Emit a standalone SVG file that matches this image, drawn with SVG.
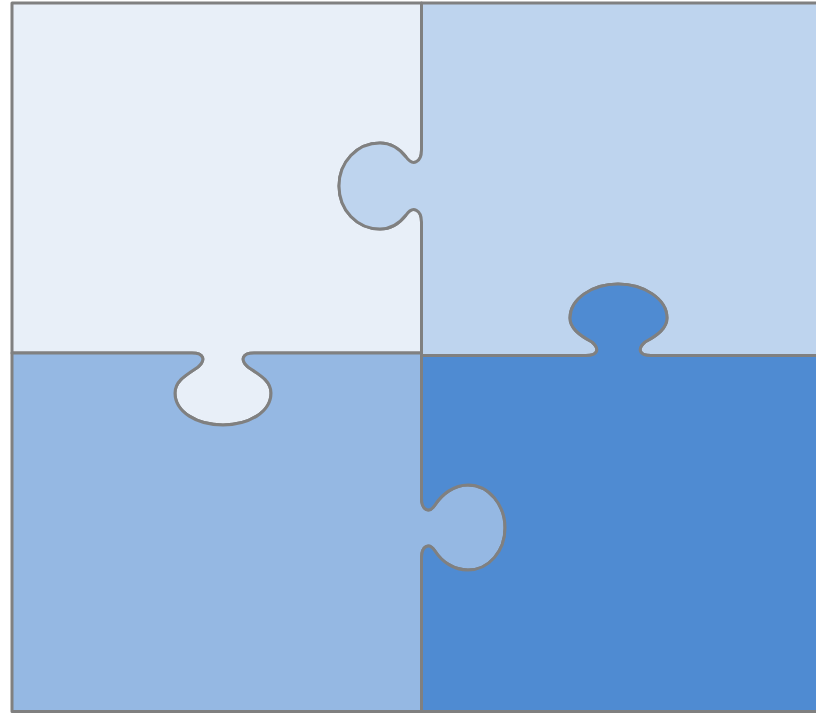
<svg xmlns="http://www.w3.org/2000/svg" width="816" height="713" viewBox="0 0 816 713">
  <style>
    .piece { stroke: #808080; stroke-width: 3; stroke-linejoin: round; }
    .tl { fill: #E8EFF8; }
    .tr { fill: #BED4EE; }
    .bl { fill: #95B8E3; }
    .br { fill: #4F8BD2; }
  </style>
  <rect x="0" y="0" width="816" height="713" fill="#FFFFFF"/>
  <g id="piece-top-left">
    <path class="piece tl" d="M12,3 L421.5,3 L421.5,150 C421.5,162 413,167 406,157 C399,148 390,143 380,143 C357,143 339,162 339,186 C339,210 357,229 380,229 C390,229 399,224 406,215 C413,205 421.5,210 421.5,222 L421.5,353 L254,353 C242,353 240,360 248,367 C260,375 271,381 271,393 C271,412 249,425 223,425 C197,425 175,412 175,393 C175,381 186,375 198,367 C206,360 204,353 192,353 L12,353 Z"/>
  </g>
  <g id="piece-top-right">
    <path class="piece tr" d="M421.5,3 L822,3 L822,355.5 L651,355.5 C639,355.5 637,349 645,342 C658,335 667,328 667,318 C667,299 644,284 618,284 C592,284 570,299 570,318 C570,328 579,335 592,342 C600,349 598,355.5 586,355.5 L421.5,355.5 L421.5,222 C421.5,210 413,205 406,215 C399,224 390,229 380,229 C357,229 339,210 339,186 C339,162 357,143 380,143 C390,143 399,148 406,157 C413,167 421.5,162 421.5,150 Z"/>
  </g>
  <g id="piece-bottom-left">
    <path class="piece bl" d="M12,353 L192,353 C204,353 206,360 198,367 C186,375 175,381 175,393 C175,412 197,425 223,425 C249,425 271,412 271,393 C271,381 260,375 248,367 C240,360 242,353 254,353 L421.5,353 L421.5,498 C421.5,510 429,514 435,505 C442,494 454,485 468,485 C489,485 505,505 505,528 C505,551 489,570 468,570 C454,570 442,562 435,551 C429,542 421.5,546 421.5,558 L421.5,711.5 L12,711.5 Z"/>
  </g>
  <g id="piece-bottom-right">
    <path class="piece br" d="M421.5,355.5 L586,355.5 C598,355.5 600,349 592,342 C579,335 570,328 570,318 C570,299 592,284 618,284 C644,284 667,299 667,318 C667,328 658,335 645,342 C637,349 639,355.5 651,355.5 L822,355.5 L822,711.5 L421.5,711.5 L421.5,558 C421.5,546 429,542 435,551 C442,562 454,570 468,570 C489,570 505,551 505,528 C505,505 489,485 468,485 C454,485 442,494 435,505 C429,514 421.5,510 421.5,498 Z"/>
  </g>
</svg>
